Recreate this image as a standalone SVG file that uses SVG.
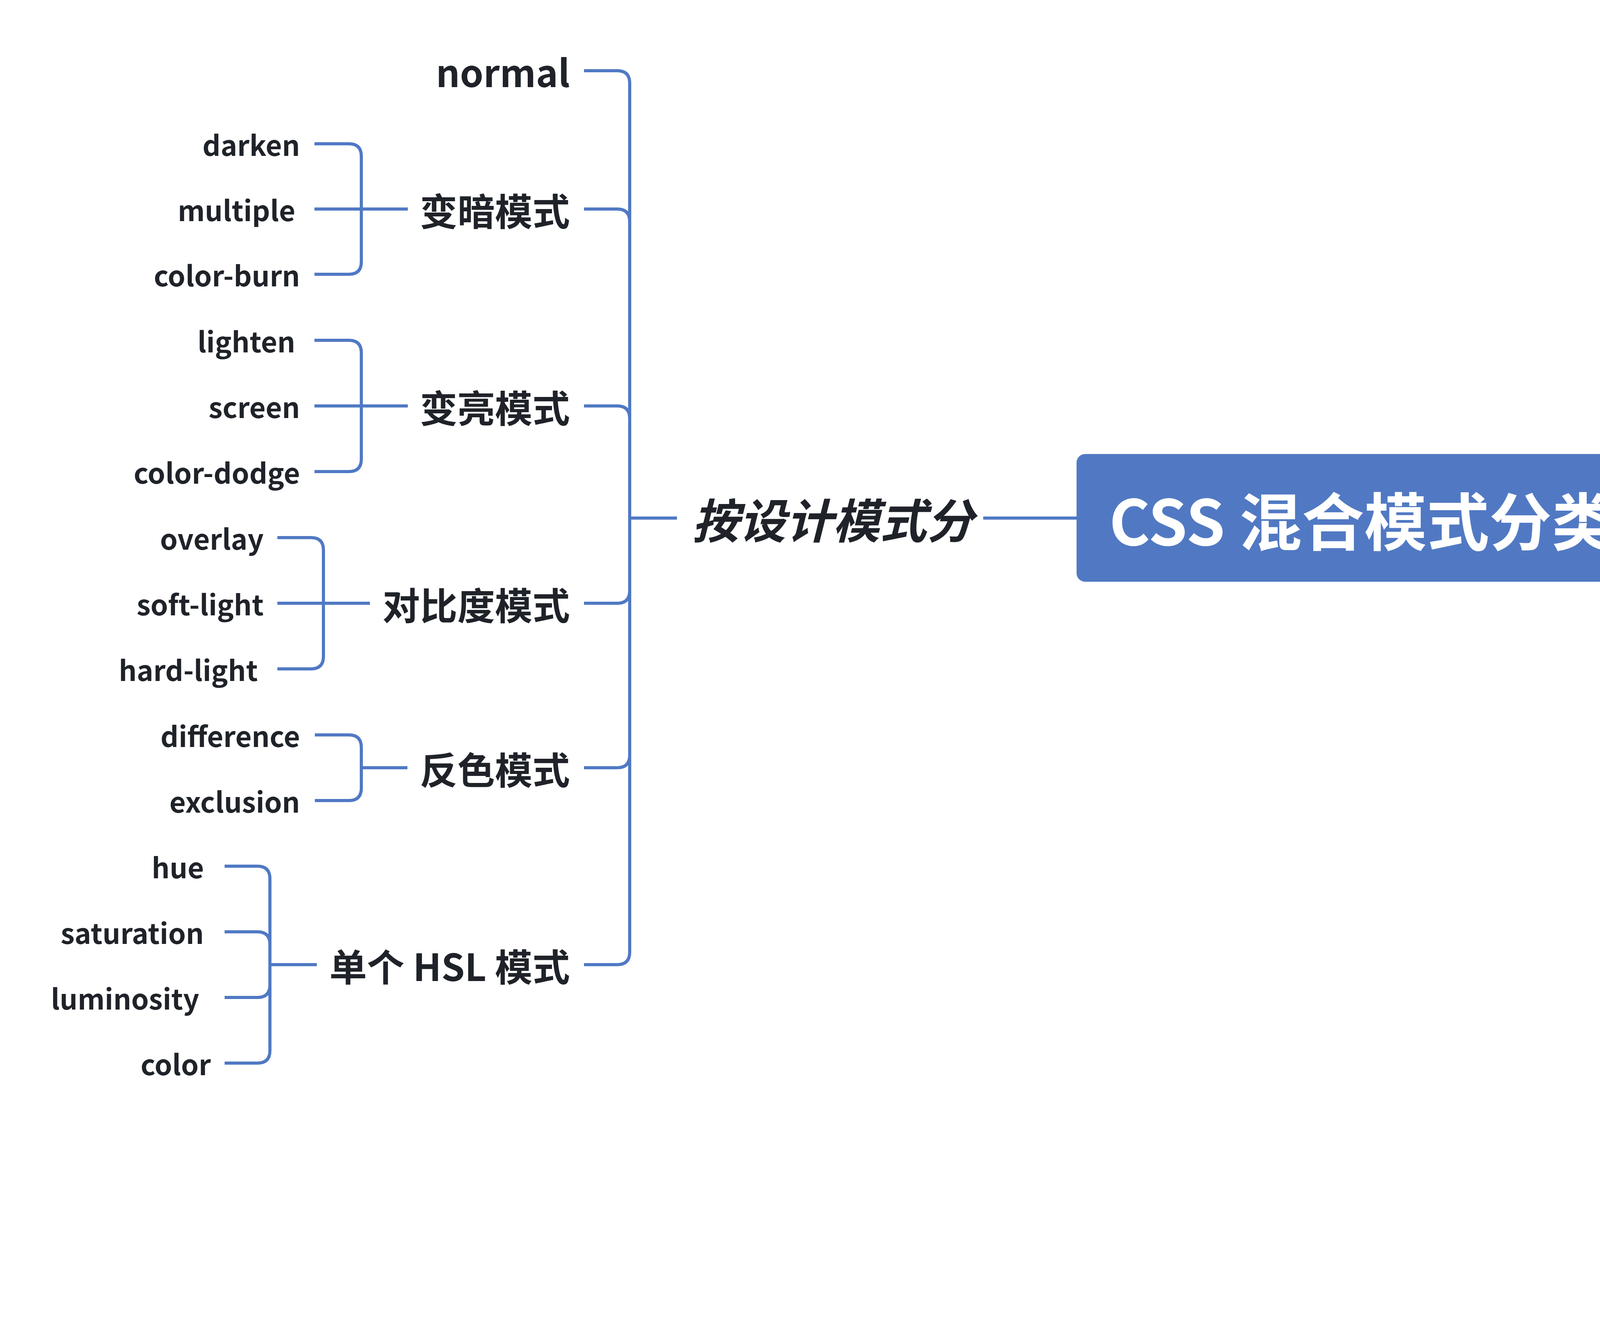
<svg xmlns="http://www.w3.org/2000/svg" width="6720" height="3376" viewBox="0 0 6720 3376">
<style>
.c{fill:none;stroke:#5079c4;stroke-width:8}
text{font-family:"Noto Sans CJK SC","Noto Sans",sans-serif;font-weight:700;fill:#1f2329}
.root{font-size:160px;fill:#ffffff}
.l1{font-size:120px;font-style:italic}
.l2{font-size:96px}
.lf{font-size:72px}
.e{text-anchor:end}
.wm{font-size:18px;font-weight:400;fill:#b4b4b4}
</style>
<rect width="6720" height="3376" fill="#ffffff"/>
<g id="connectors">
<path class="c" d="M2756,1326 H2517"/>
<path class="c" d="M1733,1326 H1612"/>
<path class="c" d="M1612,1326 V213 Q1612,181 1580,181 H1495"/>
<path class="c" d="M1612,1326 V567 Q1612,535 1580,535 H1495"/>
<path class="c" d="M1612,1326 V1071 Q1612,1039 1580,1039 H1495"/>
<path class="c" d="M1612,1326 V1512 Q1612,1544 1580,1544 H1495"/>
<path class="c" d="M1612,1326 V1933 Q1612,1965 1580,1965 H1495"/>
<path class="c" d="M1612,1326 V2437 Q1612,2469 1580,2469 H1495"/>
<path class="c" d="M1044,535 H925"/>
<path class="c" d="M925,535 V400 Q925,368 893,368 H805"/>
<path class="c" d="M925,535 H805"/>
<path class="c" d="M925,535 V670 Q925,702 893,702 H805"/>
<path class="c" d="M1044,1039 H925"/>
<path class="c" d="M925,1039 V903 Q925,871 893,871 H805"/>
<path class="c" d="M925,1039 H805"/>
<path class="c" d="M925,1039 V1175 Q925,1207 893,1207 H805"/>
<path class="c" d="M947,1544 H828"/>
<path class="c" d="M828,1544 V1408 Q828,1376 796,1376 H710"/>
<path class="c" d="M828,1544 H710"/>
<path class="c" d="M828,1544 V1680 Q828,1712 796,1712 H710"/>
<path class="c" d="M1043,1965 H925"/>
<path class="c" d="M925,1965 V1913 Q925,1881 893,1881 H806"/>
<path class="c" d="M925,1965 V2017 Q925,2049 893,2049 H806"/>
<path class="c" d="M811,2469 H691"/>
<path class="c" d="M691,2469 V2249 Q691,2217 659,2217 H575"/>
<path class="c" d="M691,2469 V2417 Q691,2385 659,2385 H575"/>
<path class="c" d="M691,2469 V2521 Q691,2553 659,2553 H575"/>
<path class="c" d="M691,2469 V2689 Q691,2721 659,2721 H575"/>
<path class="c" d="M4217,1326 H4337"/>
<path class="c" d="M4337,1326 V400 Q4337,368 4369,368 H4457"/>
<path class="c" d="M4337,1326 V2252 Q4337,2284 4369,2284 H4457"/>
<path class="c" d="M5001,368 H5121"/>
<path class="c" d="M5121,368 V316 Q5121,284 5153,284 H5240"/>
<path class="c" d="M5121,368 V420 Q5121,452 5153,452 H5240"/>
<path class="c" d="M5242,2284 H5361"/>
<path class="c" d="M5361,2284 V1642 Q5361,1610 5393,1610 H5481"/>
<path class="c" d="M5361,2284 V2924 Q5361,2956 5393,2956 H5481"/>
<path class="c" d="M5835,1610 H5952"/>
<path class="c" d="M5952,1610 V718 Q5952,686 5984,686 H6073"/>
<path class="c" d="M5952,1610 V886 Q5952,854 5984,854 H6073"/>
<path class="c" d="M5952,1610 V1054 Q5952,1022 5984,1022 H6073"/>
<path class="c" d="M5952,1610 V1222 Q5952,1190 5984,1190 H6073"/>
<path class="c" d="M5952,1610 V1390 Q5952,1358 5984,1358 H6073"/>
<path class="c" d="M5952,1610 V1558 Q5952,1526 5984,1526 H6073"/>
<path class="c" d="M5952,1610 V1662 Q5952,1694 5984,1694 H6073"/>
<path class="c" d="M5952,1610 V1830 Q5952,1862 5984,1862 H6073"/>
<path class="c" d="M5952,1610 V1998 Q5952,2030 5984,2030 H6073"/>
<path class="c" d="M5952,1610 V2166 Q5952,2198 5984,2198 H6073"/>
<path class="c" d="M5952,1610 V2334 Q5952,2366 5984,2366 H6073"/>
<path class="c" d="M5952,1610 V2502 Q5952,2534 5984,2534 H6073"/>
<path class="c" d="M5932,2956 H6049"/>
<path class="c" d="M6049,2956 V2736 Q6049,2704 6081,2704 H6169"/>
<path class="c" d="M6049,2956 V2904 Q6049,2872 6081,2872 H6169"/>
<path class="c" d="M6049,2956 V3008 Q6049,3040 6081,3040 H6169"/>
<path class="c" d="M6049,2956 V3176 Q6049,3208 6081,3208 H6169"/>
</g>
<g id="root">
<rect x="2756" y="1162" width="1461" height="327" rx="22" fill="#5179c3"/>
<text class="root" x="3486" y="1396" text-anchor="middle">CSS 混合模式分类</text>
</g>
<g id="by-design"><text class="l1" x="1772" y="1378">按设计模式分</text></g>
<g id="l-normal"><text class="l2 e" x="1459" y="223">normal</text></g>
<g id="darken-mode"><text class="l2 e" x="1459" y="577">变暗模式</text></g>
<g id="l-darken"><text class="lf e" x="768" y="399">darken</text></g>
<g id="l-multiple"><text class="lf e" x="756" y="566">multiple</text></g>
<g id="l-color-burn"><text class="lf e" x="768" y="733">color-burn</text></g>
<g id="lighten-mode"><text class="l2 e" x="1459" y="1081">变亮模式</text></g>
<g id="l-lighten"><text class="lf e" x="756" y="902">lighten</text></g>
<g id="l-screen"><text class="lf e" x="768" y="1070">screen</text></g>
<g id="l-color-dodge"><text class="lf e" x="768" y="1238">color-dodge</text></g>
<g id="contrast-mode"><text class="l2 e" x="1459" y="1586">对比度模式</text></g>
<g id="l-overlay"><text class="lf e" x="675" y="1407">overlay</text></g>
<g id="l-soft-light"><text class="lf e" x="675" y="1575">soft-light</text></g>
<g id="l-hard-light"><text class="lf e" x="660" y="1743">hard-light</text></g>
<g id="invert-mode"><text class="l2 e" x="1459" y="2007">反色模式</text></g>
<g id="l-difference"><text class="lf e" x="768" y="1912">difference</text></g>
<g id="l-exclusion"><text class="lf e" x="768" y="2080">exclusion</text></g>
<g id="hsl-mode"><text class="l2 e" x="1459" y="2511">单个 HSL 模式</text></g>
<g id="l-hue"><text class="lf e" x="522" y="2248">hue</text></g>
<g id="l-saturation"><text class="lf e" x="522" y="2416">saturation</text></g>
<g id="l-luminosity"><text class="lf e" x="510" y="2584">luminosity</text></g>
<g id="l-color"><text class="lf e" x="540" y="2752">color</text></g>
<g id="by-property"><text class="l1" x="4497" y="420">按属性分</text></g>
<g id="r-mix"><text class="lf" x="5274" y="315">mix-blend-mode</text></g>
<g id="r-bg"><text class="lf" x="5274" y="483">background-blend-mode</text></g>
<g id="by-separable"><text class="l1" x="4497" y="2336">按分离模式分</text></g>
<g id="separable"><text class="l2" x="5518" y="1652">可分离</text></g>
<g id="r-normal"><text class="lf" x="6108" y="717">normal</text></g>
<g id="r-multiply"><text class="lf" x="6108" y="885">multiply</text></g>
<g id="r-screen"><text class="lf" x="6108" y="1053">screen</text></g>
<g id="r-overlay"><text class="lf" x="6108" y="1221">overlay</text></g>
<g id="r-darken"><text class="lf" x="6108" y="1389">darken</text></g>
<g id="r-lighten"><text class="lf" x="6108" y="1557">lighten</text></g>
<g id="r-color-dodge"><text class="lf" x="6108" y="1725">color-dodge</text></g>
<g id="r-color-burn"><text class="lf" x="6108" y="1893">color-burn</text></g>
<g id="r-hard-light"><text class="lf" x="6108" y="2061">hard-light</text></g>
<g id="r-soft-light"><text class="lf" x="6108" y="2229">soft-light</text></g>
<g id="r-difference"><text class="lf" x="6108" y="2397">difference</text></g>
<g id="r-exclusion"><text class="lf" x="6108" y="2565">exclusion</text></g>
<g id="non-separable"><text class="l2" x="5518" y="2998">不可分离</text></g>
<g id="r-hue"><text class="lf" x="6205" y="2735">hue</text></g>
<g id="r-saturation"><text class="lf" x="6205" y="2903">saturation</text></g>
<g id="r-color"><text class="lf" x="6205" y="3071">color</text></g>
<g id="r-luminosity"><text class="lf" x="6205" y="3239">luminosity</text></g>
<text class="wm" x="6713" y="3368" text-anchor="end">@稀土掘金技术社区</text>
</svg>
